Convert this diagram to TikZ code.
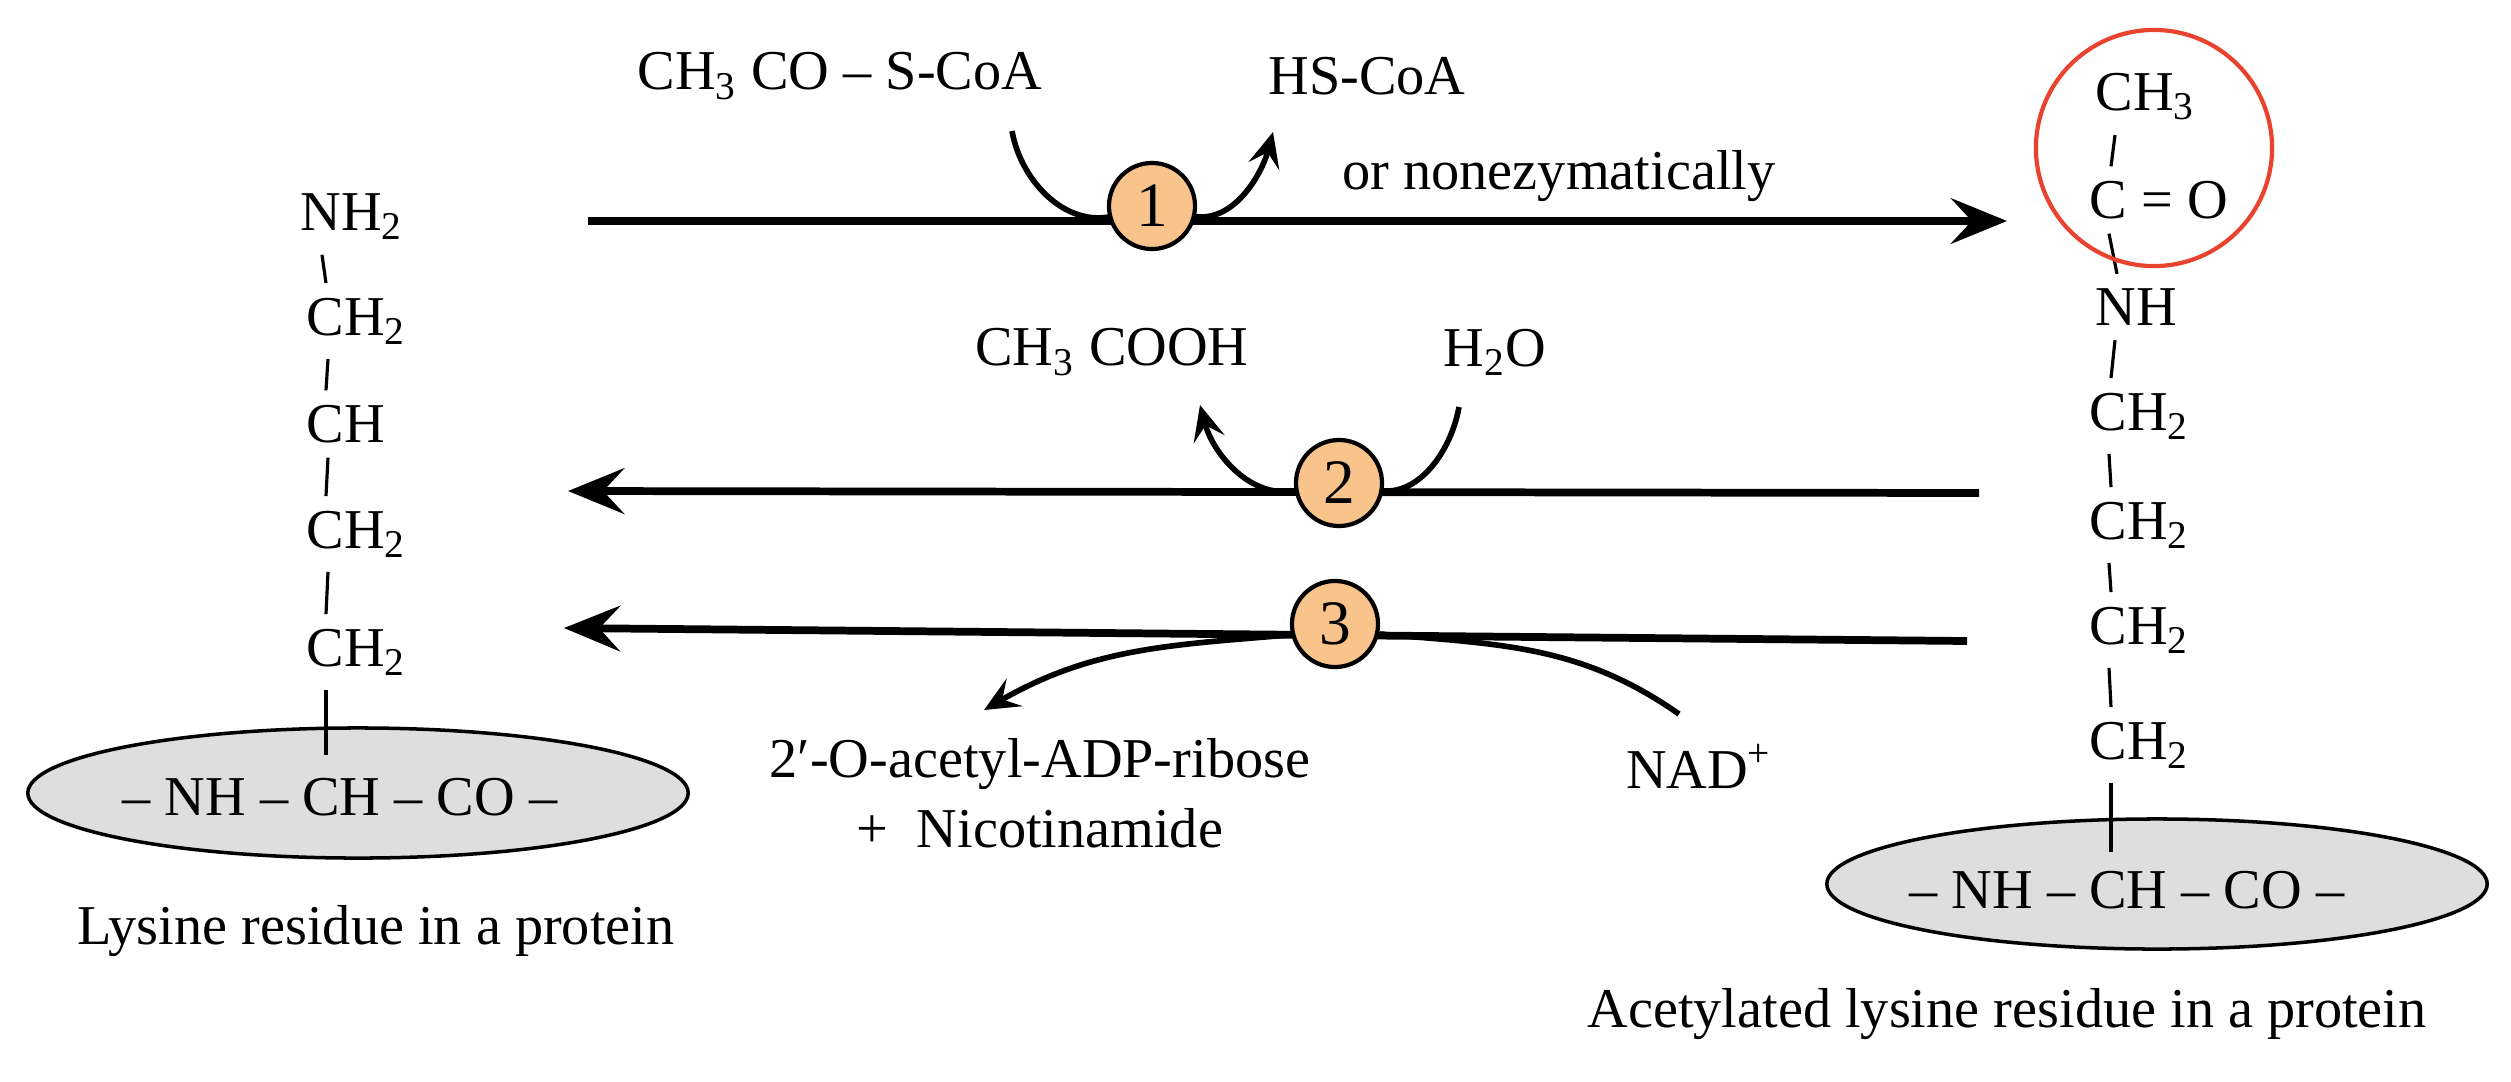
\documentclass[tikz,border=0pt]{standalone}
\usepackage{fontspec}
\setmainfont{Liberation Serif}
\usetikzlibrary{positioning,calc,arrows.meta,shapes.geometric}
\definecolor{enzfill}{HTML}{F9C38C}
\definecolor{acetred}{HTML}{E8432E}
\tikzset{
  chem/.style={font=\fontsize{16}{18}\selectfont,inner xsep=0pt,inner ysep=4pt},
  label text/.style={font=\fontsize{16}{18}\selectfont},
  enzyme/.style={shape=circle,draw,line width=1.2pt,fill=enzfill,inner sep=0pt,
    minimum size=0.86cm,font=\fontsize{18}{20}\selectfont},
  residue/.style={shape=ellipse,draw,line width=1pt,fill=black!13,
    minimum width=6.6cm,minimum height=1.3cm,font=\fontsize{16}{18}\selectfont},
  reaction/.style={line width=2.2pt},
  side/.style={line width=1.6pt},
  bigtip/.style={-{Stealth[length=16pt,width=13pt,inset=6pt]}},
  smalltip/.style={-{Stealth[length=10pt,width=9pt,inset=4pt]}}
}

\begin{document}
\begin{tikzpicture}[x=0.01cm,y=-0.01cm]
  \useasboundingbox (0,0) rectangle (2511,1081);
  % lysine residue
  \node (lnh) [chem,anchor=west] at (300,217) {NH\textsubscript{2}};
  \node (la) [chem,anchor=west] at (306,321) {CH\textsubscript{2}};
  \node (lb) [chem,anchor=west] at (306,424) {CH};
  \node (lc) [chem,anchor=west] at (306,534) {CH\textsubscript{2}};
  \node (ld) [chem,anchor=west] at (306,652) {CH\textsubscript{2}};
  \node (lres) [residue] at (358,793) {};
  \node (ltext) [label text] at (340,797) {– NH – CH – CO –};
  \coordinate (ltail) at (326,755);
  \foreach \a/\b in {lnh/la,la/lb,lb/lc,lc/ld}
    \draw [line width=0.9pt] ($(\a.south west)+(22,0)$) -- ($(\b.north west)+(20,0)$);
  \draw [line width=0.9pt] ($(ld.south west)+(20,0)$) -- (ltail);
  \node (lcap) [label text] at (376,931) {Lysine residue in a protein};

  % acetylated residue
  \node (rme) [chem,anchor=west] at (2095,97) {CH\textsubscript{3}};
  \node (rco) [chem,anchor=west] at (2089,200) {C = O};
  \node (rnh) [chem,anchor=west] at (2095,307) {NH};
  \node (ra) [chem,anchor=west] at (2089,416) {CH\textsubscript{2}};
  \node (rb) [chem,anchor=west] at (2089,525) {CH\textsubscript{2}};
  \node (rc) [chem,anchor=west] at (2089,630) {CH\textsubscript{2}};
  \node (rd) [chem,anchor=west] at (2089,745) {CH\textsubscript{2}};
  \node (rres) [residue] at (2157,884) {};
  \node (rtext) [label text] at (2127,890) {– NH – CH – CO –};
  \coordinate (rtail) at (2111,852);
  \foreach \a/\b in {rme/rco,rco/rnh,rnh/ra,ra/rb,rb/rc,rc/rd}
    \draw [line width=0.9pt] ($(\a.south west)+(20,0)$) -- ($(\b.north west)+(22,0)$);
  \draw [line width=0.9pt] ($(rd.south west)+(22,0)$) -- (rtail);
  \node (acetyl) [draw=acetred,line width=1.2pt,circle,minimum size=2.36cm] at (2154,148) {};
  \node (rcap) [label text] at (2007,1014) {Acetylated lysine residue in a protein};

  % reaction 1
  \coordinate (s1) at (588,221);
  \coordinate (e1) at (2007,221);
  \node (acoa) [label text] at (840,76) {CH\textsubscript{3} CO – S-CoA};
  \node (hscoa) [label text] at (1367,76) {HS-CoA};
  \node (nonenz) [label text] at (1559,176) {or nonezymatically};
  \coordinate (in1) at (1012,131);
  \coordinate (out1) at (1273,132);
  \draw [reaction,bigtip] (s1) -- (e1);
  \draw [side] (in1) to[out=-80,in=200] (1120,214);
  \draw [side,smalltip] (1185,214) to[out=-20,in=-105] (out1);
  \node (enz1) [enzyme] at (1152,206) {1};

  % reaction 2
  \coordinate (s2) at (1979,493);
  \coordinate (e2) at (568,491);
  \node (acid) [label text] at (1112,352) {CH\textsubscript{3} COOH};
  \node (water) [label text] at (1495,352) {H\textsubscript{2}O};
  \coordinate (in2) at (1459,407);
  \coordinate (out2) at (1200,405);
  \draw [reaction,bigtip] (s2) -- (e2);
  \draw [side] (in2) to[out=-100,in=-20] (1370,488);
  \draw [side,smalltip] (1305,488) to[out=200,in=-75] (out2);
  \node (enz2) [enzyme] at (1339,483) {2};

  % reaction 3
  \coordinate (s3) at (1967,641);
  \coordinate (e3) at (564,628);
  \node (nad) [label text] at (1699,766) {NAD\textsuperscript{+}};
  \node (prod) [label text,align=center] at (1040,793) {2′-O-acetyl-ADP-ribose\\[2pt]+\ \ Nicotinamide};
  \coordinate (in3) at (1679,714);
  \coordinate (out3) at (984,710);
  \draw [reaction,bigtip] (s3) -- (e3);
  \draw [side] (in3) to[out=145,in=-5] (1380,634);
  \draw [side,smalltip] (1300,634) to[out=185,in=30] (out3);
  \node (enz3) [enzyme] at (1335,624) {3};
\end{tikzpicture}
\end{document}
